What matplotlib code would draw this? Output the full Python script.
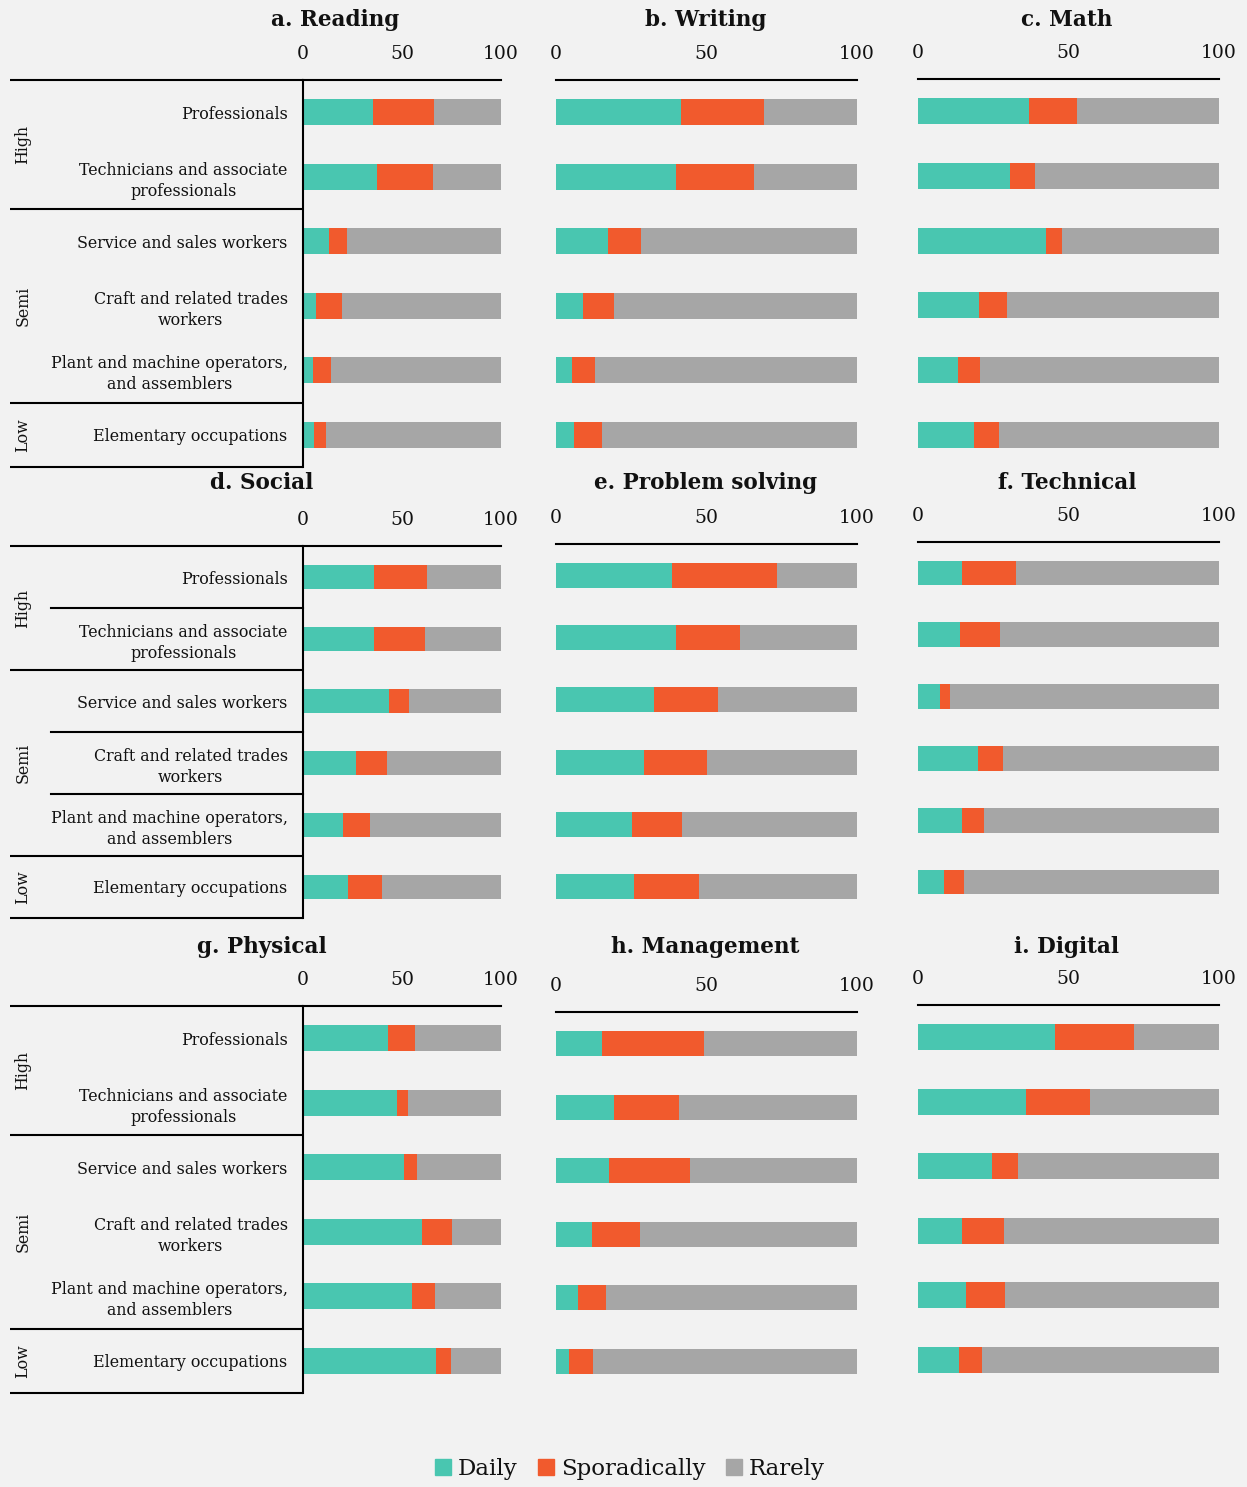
import matplotlib.pyplot as plt
from matplotlib import transforms
from matplotlib.patches import Patch

plt.rcParams["font.family"] = ["DejaVu Serif"]
plt.rcParams["text.color"] = "#111111"

# occupation rows, top to bottom
occupations = [
    "Professionals",
    "Technicians and associate\nprofessionals",
    "Service and sales workers",
    "Craft and related trades\nworkers",
    "Plant and machine operators,\nand assemblers",
    "Elementary occupations",
]
skill_levels = ["High", "Semi", "Low"]
level_spans = [(0, 1), (2, 4), (5, 5)]

titles = [
    "a. Reading", "b. Writing", "c. Math",
    "d. Social", "e. Problem solving", "f. Technical",
    "g. Physical", "h. Management", "i. Digital",
]

# share of workers (%) using each skill, per panel and occupation
daily = [
    [35.6, 37.3, 13.3, 6.6, 4.9, 5.6],
    [41.6, 39.8, 17.4, 9.1, 5.4, 5.9],
    [36.8, 30.5, 42.5, 20.3, 13.4, 18.6],
    [35.8, 35.8, 43.3, 27.0, 20.4, 22.6],
    [38.4, 39.9, 32.7, 29.4, 25.4, 26.0],
    [14.5, 13.8, 7.4, 19.8, 14.5, 8.5],
    [42.7, 47.7, 50.8, 60.0, 55.0, 67.1],
    [15.4, 19.3, 17.7, 11.9, 7.2, 4.2],
    [45.5, 35.8, 24.6, 14.6, 15.8, 13.7],
]
sporadically = [
    [30.5, 28.3, 8.8, 13.0, 9.1, 5.9],
    [27.4, 26.0, 10.8, 10.2, 7.5, 9.4],
    [16.0, 8.3, 5.3, 9.2, 7.2, 8.3],
    [26.8, 25.8, 10.2, 15.2, 13.2, 17.2],
    [34.9, 21.1, 21.1, 20.7, 16.4, 21.5],
    [18.1, 13.4, 3.2, 8.5, 7.5, 6.7],
    [13.8, 5.3, 6.7, 15.4, 11.9, 7.8],
    [33.8, 21.4, 26.8, 16.0, 9.4, 8.0],
    [26.2, 21.3, 8.6, 13.9, 13.0, 7.7],
]
rarely = [
    [33.9, 34.4, 77.9, 80.4, 86.0, 88.5],
    [31.0, 34.2, 71.8, 80.7, 87.1, 84.7],
    [47.2, 61.2, 52.2, 70.5, 79.4, 73.1],
    [37.4, 38.4, 46.5, 57.8, 66.4, 60.2],
    [26.7, 39.0, 46.2, 49.9, 58.2, 52.5],
    [67.4, 72.8, 89.4, 71.7, 78.0, 84.8],
    [43.5, 47.0, 42.5, 24.6, 33.1, 25.1],
    [50.8, 59.3, 55.5, 72.1, 83.4, 87.8],
    [28.3, 42.9, 66.8, 71.5, 71.2, 78.6],
]

TEAL, ORANGE, GREY = "#49c6b0", "#f15a2d", "#a6a6a6"
BG = "#f2f2f2"

W, H = 1247, 1487
fig = plt.figure(figsize=(W / 100, H / 100), dpi=100, facecolor=BG)

# panel boxes in pixels: x0, x1, top, bottom, title x, title y
boxes = [
    (303, 501, 80, 467, 335, 20),
    (556, 857, 80, 467, 706, 20),
    (918, 1219, 79, 467, 1067, 20),
    (303, 501, 546, 918, 262, 483),
    (556, 857, 544, 918, 706, 483),
    (918, 1219, 542, 913, 1067, 483),
    (303, 501, 1006, 1393, 262, 947),
    (556, 857, 1012, 1393, 705, 947),
    (918, 1219, 1005, 1392, 1067, 947),
]

LW = 1.5
rows = list(range(len(occupations)))

for k, (x0, x1, top, bottom, tx, ty) in enumerate(boxes):
    ax = fig.add_axes([x0 / W, 1 - bottom / H, (x1 - x0) / W, (bottom - top) / H])
    ax.set_facecolor("none")

    left2 = [d + s for d, s in zip(daily[k], sporadically[k])]
    ax.barh(rows, daily[k], height=0.4, color=TEAL)
    ax.barh(rows, sporadically[k], left=daily[k], height=0.4, color=ORANGE)
    ax.barh(rows, rarely[k], left=left2, height=0.4, color=GREY)

    ax.set_xlim(0, 100)
    ax.set_ylim(5.5, -0.5)
    ax.xaxis.tick_top()
    ax.set_xticks([0, 50, 100])
    ax.tick_params(axis="x", length=0, pad=12, labelsize=13.5,
                   labelcolor="#111111")

    for side in ["right", "bottom", "left"]:
        ax.spines[side].set_visible(False)
    ax.spines["top"].set_linewidth(LW)
    ax.spines["top"].set_color("black")

    fig.text(tx / W, 1 - ty / H, titles[k], ha="center", va="center",
             fontsize=15.5, fontweight="bold")

    if k % 3 != 0:
        ax.set_yticks([])
        continue

    # first column carries the occupation labels and skill-level brackets
    ax.spines["left"].set_visible(True)
    ax.spines["left"].set_linewidth(LW)
    ax.spines["left"].set_color("black")
    ax.set_yticks(rows, labels=occupations)
    ax.tick_params(axis="y", length=0, pad=11, labelsize=11.4,
                   labelcolor="#111111")
    for lbl in ax.get_yticklabels():
        lbl.set_multialignment("center")
        lbl.set_linespacing(1.3)

    trans = transforms.blended_transform_factory(fig.transFigure, ax.transData)
    seps = [-0.5] + [hi + 0.5 for lo, hi in level_spans]
    for yy in seps:
        ax.plot([10 / W, x0 / W], [yy, yy], transform=trans, color="black",
                lw=LW, clip_on=False, solid_capstyle="butt")
    if k == 3:
        for lo, hi in level_spans:
            for yy in range(lo, hi):
                ax.plot([51 / W, x0 / W], [yy + 0.5, yy + 0.5], transform=trans,
                        color="black", lw=LW, clip_on=False)
    for name, (lo, hi) in zip(skill_levels, level_spans):
        ax.text(23 / W, (lo + hi) / 2, name, transform=trans, rotation=90,
                ha="center", va="center", fontsize=11.4)

handles = [Patch(color=c) for c in (TEAL, ORANGE, GREY)]
fig.legend(handles, ["Daily", "Sporadically", "Rarely"], loc="center",
           bbox_to_anchor=(630 / W, 1 - 1469 / H), ncol=3, frameon=False,
           fontsize=16.5, handlelength=0.7, handleheight=0.7,
           handletextpad=0.3, columnspacing=0.9)

fig.savefig("out.png", dpi=100, facecolor=BG)
